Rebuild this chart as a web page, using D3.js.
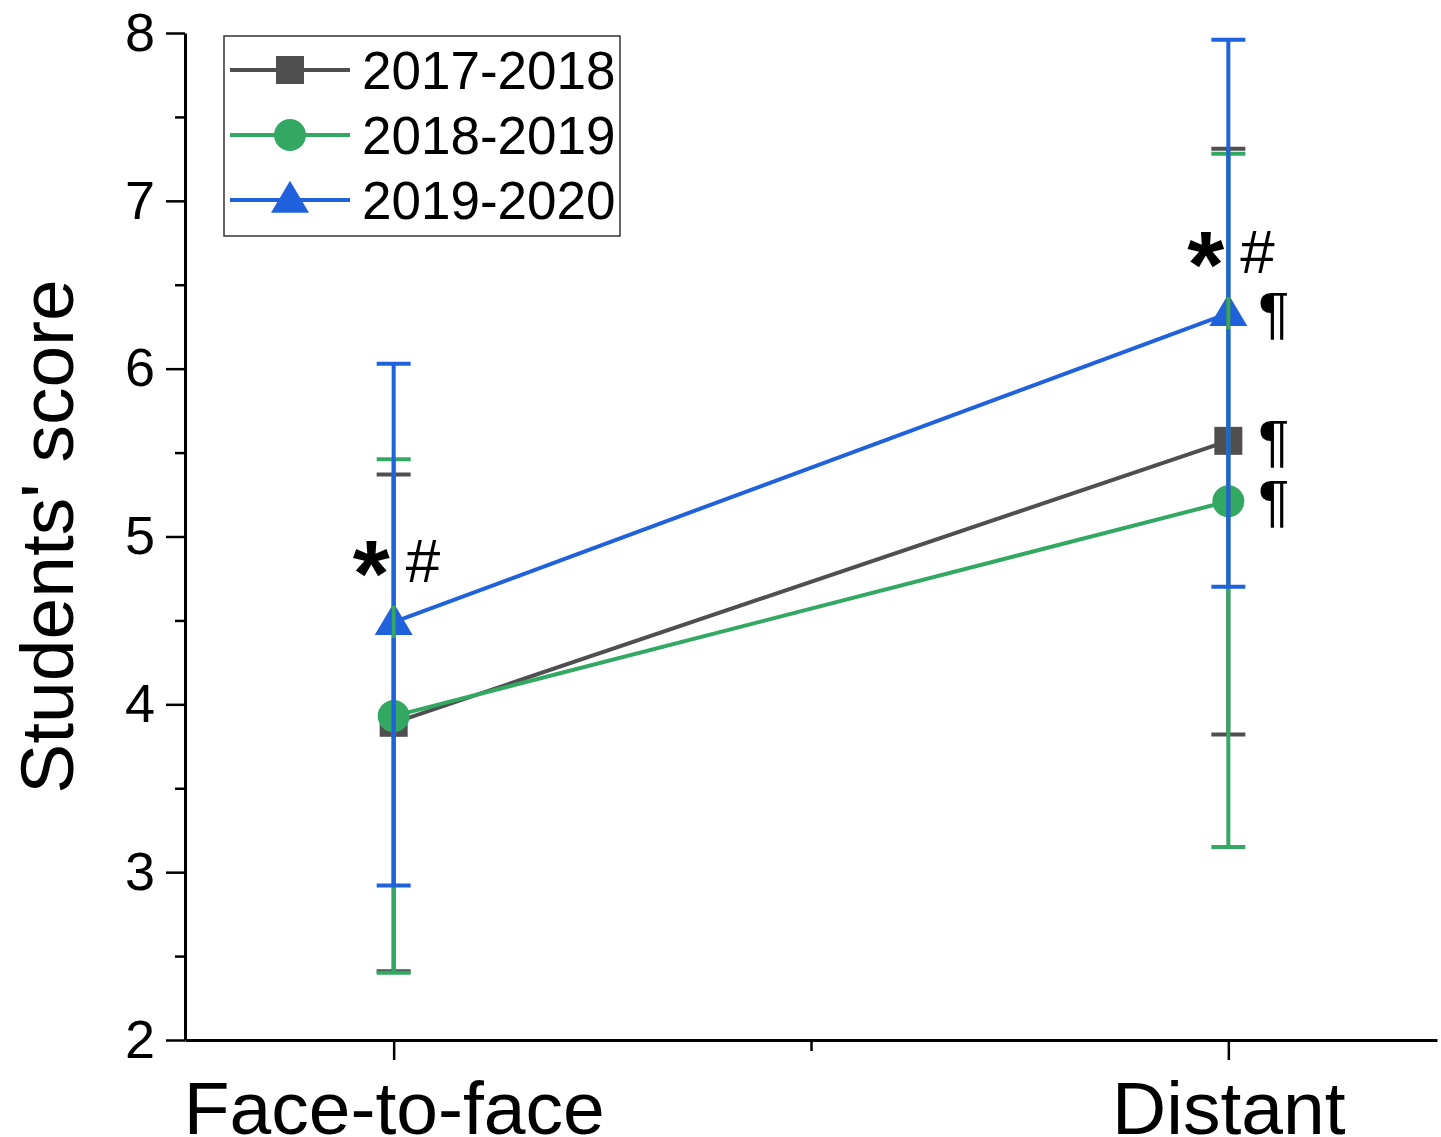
<!DOCTYPE html>
<html>
<head>
<meta charset="utf-8">
<script src="https://cdn.jsdelivr.net/npm/d3@7"></script>
<style>
  body { margin: 0; background: #fff; }
  svg { font-family: "Liberation Sans", Arial, sans-serif; }
</style>
</head>
<body>
<svg id="chart" width="1441" height="1137"></svg>
<script>
// data
const conditions = ["Face-to-face", "Distant"];
const seriesNames = ["2017-2018", "2018-2019", "2019-2020"];
const colors = ["#4f4f4f", "#33a862", "#1f62dc"];
const symbols = ["square", "circle", "triangle"];

const means17 = [3.89, 5.57];
const means18 = [3.93, 5.21];
const means19 = [4.49, 6.33];

const upper17 = [5.37, 7.31];
const upper18 = [5.46, 7.28];
const upper19 = [6.03, 7.96];

const lower17 = [2.41, 3.82];
const lower18 = [2.40, 3.15];
const lower19 = [2.92, 4.70];

const yTicks = [2, 3, 4, 5, 6, 7, 8];
const yMinorTicks = [2.5, 3.5, 4.5, 5.5, 6.5, 7.5];

// annotations: [condition index, y value]
const starMarks = [[0, 4.49], [1, 6.33]];
const pilcrows = [6.33, 5.57, 5.21];

const series = seriesNames.map((name, i) => ({
    name: name,
    color: colors[i],
    symbol: symbols[i],
    means: [means17, means18, means19][i],
    upper: [upper17, upper18, upper19][i],
    lower: [lower17, lower18, lower19][i]
}));

const svg = d3.select("#chart");

const x = d3.scaleLinear().domain([0.75, 2.25]).range([185, 1437]);
const y = d3.scaleLinear().domain([2, 8]).range([1040, 33]);

// --- axes ---
const yAxis = svg.append("g")
    .attr("transform", "translate(185,0)")
    .call(d3.axisLeft(y).tickValues(yTicks).tickFormat(d3.format("d"))
        .tickSize(19).tickSizeOuter(0).tickPadding(11));
yAxis.select(".domain").attr("stroke-width", 3);
yAxis.selectAll(".tick line").attr("stroke-width", 2.5);
yAxis.selectAll("text").attr("font-size", 54).attr("fill", "#000")
    .attr("font-family", "Liberation Sans, Arial, sans-serif");

const yMinor = svg.append("g")
    .attr("transform", "translate(185,0)")
    .call(d3.axisLeft(y).tickValues(yMinorTicks).tickSize(10).tickFormat(""));
yMinor.select(".domain").remove();
yMinor.selectAll(".tick line").attr("stroke-width", 2.5);

const xAxis = svg.append("g")
    .attr("transform", "translate(0,1040)")
    .call(d3.axisBottom(x).tickValues([1, 2]).tickSize(20).tickSizeOuter(0)
        .tickPadding(20).tickFormat(d => conditions[d - 1]));
xAxis.select(".domain").attr("stroke-width", 3);
xAxis.selectAll(".tick line").attr("stroke-width", 2.5);
xAxis.selectAll("text").attr("font-size", 75).attr("fill", "#000")
    .attr("dy", "0.72em")
    .attr("font-family", "Liberation Sans, Arial, sans-serif");

const xMinor = svg.append("g")
    .attr("transform", "translate(0,1040)")
    .call(d3.axisBottom(x).tickValues([1.5]).tickSize(11).tickFormat(""));
xMinor.select(".domain").remove();
xMinor.selectAll(".tick line").attr("stroke-width", 2.5);

// y label
svg.append("text")
    .attr("transform", `translate(73,${y(5)}) rotate(-90)`)
    .attr("text-anchor", "middle")
    .attr("font-size", 75)
    .text("Students' score");

// --- lines ---
const line = d3.line().x((d, i) => x(i + 1)).y(d => y(d));
series.forEach(s => {
    svg.append("path")
        .datum(s.means)
        .attr("fill", "none")
        .attr("stroke", s.color)
        .attr("stroke-width", 4)
        .attr("d", line);
});

// markers
function drawMarker(g, sym, cx, cy, color) {
    if (sym === "square") {
        const s = 28;
        g.append("rect").attr("x", cx - s / 2).attr("y", cy - s / 2)
            .attr("width", s).attr("height", s).attr("fill", color);
    } else if (sym === "circle") {
        g.append("circle").attr("cx", cx).attr("cy", cy).attr("r", 16).attr("fill", color);
    } else {
        const w = 38, h = 32;
        g.append("path")
            .attr("d", `M${cx},${cy - h * 0.6}L${cx + w / 2},${cy + h * 0.4}L${cx - w / 2},${cy + h * 0.4}Z`)
            .attr("fill", color);
    }
}

const markerG = svg.append("g");
series.forEach(s => {
    s.means.forEach((m, i) => drawMarker(markerG, s.symbol, x(i + 1), y(m), s.color));
});

// --- error bars (drawn from the marker edge outward) ---
const capHalf = 17;
const errG = svg.append("g");
series.forEach(s => {
    const gap = s.symbol === "triangle" ? 16 : 0;
    s.means.forEach((m, i) => {
        const cx = x(i + 1);
        errG.append("line").attr("x1", cx).attr("x2", cx)
            .attr("y1", y(s.upper[i])).attr("y2", y(m) - gap)
            .attr("stroke", s.color).attr("stroke-width", 4);
        errG.append("line").attr("x1", cx).attr("x2", cx)
            .attr("y1", y(m) + gap).attr("y2", y(s.lower[i]))
            .attr("stroke", s.color).attr("stroke-width", 4);
        [s.upper[i], s.lower[i]].forEach(v => {
            errG.append("line")
                .attr("x1", cx - capHalf).attr("x2", cx + capHalf)
                .attr("y1", y(v)).attr("y2", y(v))
                .attr("stroke", s.color).attr("stroke-width", 4);
        });
    });
});

// --- annotations ---
starMarks.forEach(([ci, v]) => {
    const cx = x(ci + 1);
    svg.append("text")
        .attr("x", cx - 4).attr("y", y(v) - 16)
        .attr("text-anchor", "end")
        .attr("font-size", 95).attr("font-weight", "bold")
        .text("*");
    svg.append("text")
        .attr("x", cx + 12).attr("y", y(v) - 40)
        .attr("font-size", 62)
        .text("#");
});
pilcrows.forEach(v => {
    svg.append("text")
        .attr("x", x(2) + 30).attr("y", y(v) + 20)
        .attr("font-size", 58)
        .text("¶");
});

// --- legend ---
const legend = svg.append("g");
legend.append("rect")
    .attr("x", 224).attr("y", 36).attr("width", 396).attr("height", 200)
    .attr("fill", "#fff").attr("stroke", "#333").attr("stroke-width", 1.5);
series.forEach((s, i) => {
    const ly = 70 + i * 65;
    legend.append("line").attr("x1", 230).attr("x2", 350).attr("y1", ly).attr("y2", ly)
        .attr("stroke", s.color).attr("stroke-width", 4);
    drawMarker(legend, s.symbol, 290, ly, s.color);
    legend.append("text").attr("x", 362).attr("y", ly + 19)
        .attr("font-size", 53).text(s.name);
});
</script>
</body>
</html>
